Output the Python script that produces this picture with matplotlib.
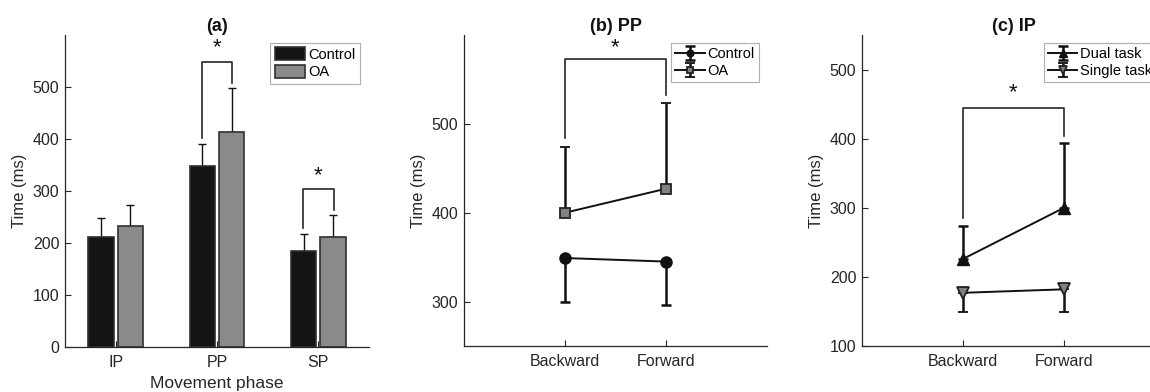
import matplotlib
matplotlib.use("Agg")
import matplotlib.pyplot as plt
import numpy as np

plt.rcParams['font.family'] = ['Liberation Sans', 'DejaVu Sans']

# ---- data ----
phases = ["IP", "PP", "SP"]
control_mean = [212, 349, 185]
control_err = [37, 41, 33]
oa_mean = [233, 414, 212]
oa_err = [40, 84, 41]

directions = ["Backward", "Forward"]
pp_control = [349, 345]
pp_control_err = [50, 49]
pp_oa = [400, 427]
pp_oa_err = [74, 96]

ip_dual = [226, 300]
ip_dual_err = [48, 94]
ip_single = [177, 182]
ip_single_err = [28, 33]

# significance brackets: (x_left, x_right, y_top, y_left_end, y_right_end, y_star)
sig_a = [(1.85, 2.15, 548, 402, 508, 582), (2.85, 3.15, 303, 229, 263, 337)]
sig_b = [(1, 2, 573, 484, 533, 590)]
sig_c = [(1, 2, 445, 285, 404, 471)]

TXT = '#262626'
W, H = 1150, 392
fig = plt.figure(figsize=(W / 100, H / 100), dpi=100)


def style(ax):
    for s in ['top', 'right']:
        ax.spines[s].set_visible(False)
    for s in ['left', 'bottom']:
        ax.spines[s].set_color(TXT)
        ax.spines[s].set_linewidth(0.9)
    ax.tick_params(direction='in', colors=TXT, labelsize=11.5, length=4, width=0.8)
    ax.tick_params(axis='x', pad=6)
    ax.tick_params(axis='y', pad=4)


def brackets(ax, specs):
    for xl, xr, yt, yl, yr, ys in specs:
        ax.plot([xl, xl, xr, xr], [yl, yt, yt, yr], color='#262626', lw=1.2, clip_on=False)
        # place the visual centre of the asterisk glyph near ys
        ax.annotate('*', xy=((xl + xr) / 2, ys), xytext=(0, -6.5), textcoords='offset points',
                    ha='center', va='baseline', fontsize=16, color='#111111', annotation_clip=False)


def legend(ax, **kw):
    leg = ax.legend(borderaxespad=0, fontsize=10.5, handletextpad=0.2, labelspacing=0.2,
                    borderpad=0.3, fancybox=False, framealpha=1, edgecolor='#b0b0b0', **kw)
    leg.get_frame().set_linewidth(0.8)
    return leg


# ---- (a) ----
ax1 = fig.add_axes([65 / W, 1 - 347 / H, 304 / W, 312 / H])
style(ax1)
x = np.arange(1, len(phases) + 1)
bw = 0.25
off = 0.145
ax1.bar(x - off, control_mean, bw, color='#141414', edgecolor='#303030', lw=1.2, label='Control', zorder=2)
ax1.bar(x + off, oa_mean, bw, color='#8a8a8a', edgecolor='#303030', lw=1.2, label='OA', zorder=2)
ax1.errorbar(x - off, control_mean, yerr=[np.zeros(3), control_err], fmt='none', ecolor='#111111',
             elinewidth=1, capsize=3, capthick=1, zorder=1)
ax1.errorbar(x + off, oa_mean, yerr=[np.zeros(3), oa_err], fmt='none', ecolor='#111111',
             elinewidth=1, capsize=3, capthick=1, zorder=1)
ax1.set_xlim(0.5, 3.5)
ax1.set_ylim(0, 600)
ax1.set_yticks([0, 100, 200, 300, 400, 500])
ax1.set_xticks(x)
ax1.set_xticklabels(phases)
ax1.set_ylabel('Time (ms)', fontsize=12, color=TXT, labelpad=4)
ax1.set_xlabel('Movement phase', fontsize=12.5, color=TXT, labelpad=4)
ax1.set_title('(a)', fontsize=13, fontweight='bold', color='#111111', pad=3)
brackets(ax1, sig_a)
legend(ax1, loc='upper right', bbox_to_anchor=(0.97, 0.975), handlelength=2.1, handleheight=1.0)

# ---- (b) ----
ax2 = fig.add_axes([464 / W, 1 - 346 / H, 303 / W, 311 / H])
style(ax2)
xd = np.arange(1, len(directions) + 1)
ax2.errorbar(xd, pp_control, yerr=[pp_control_err, np.zeros(2)], color='#111111', marker='o', ms=8,
             mfc='#111111', mec='#111111', lw=1.4, elinewidth=1.8, capsize=3.5, capthick=1.8, label='Control')
ax2.errorbar(xd, pp_oa, yerr=[np.zeros(2), pp_oa_err], color='#111111', marker='s', ms=6.5,
             mfc='#808080', mec='#222222', mew=1.3, lw=1.4, elinewidth=1.8, capsize=3.5, capthick=1.8, label='OA')
ax2.set_xlim(0, 3)
ax2.set_ylim(250, 600)
ax2.set_yticks([300, 400, 500])
ax2.set_xticks(xd)
ax2.set_xticklabels(directions)
ax2.set_ylabel('Time (ms)', fontsize=12, color=TXT, labelpad=4)
ax2.set_title('(b) PP', fontsize=13, fontweight='bold', color='#111111', pad=3)
brackets(ax2, sig_b)
legend(ax2, loc='upper right', bbox_to_anchor=(0.974, 0.975), handlelength=2.0, markerscale=0.6)

# ---- (c) ----
ax3 = fig.add_axes([862 / W, 1 - 346 / H, 303 / W, 311 / H])
style(ax3)
ax3.errorbar(xd, ip_dual, yerr=[np.zeros(2), ip_dual_err], color='#111111', marker='^', ms=9,
             mfc='#111111', mec='#111111', lw=1.4, elinewidth=1.8, capsize=3.5, capthick=1.8, label='Dual task')
ax3.errorbar(xd, ip_single, yerr=[ip_single_err, np.zeros(2)], color='#111111', marker='v', ms=9,
             mfc='#808080', mec='#222222', mew=1.3, lw=1.4, elinewidth=1.8, capsize=3.5, capthick=1.8,
             label='Single task')
ax3.set_xlim(0, 3)
ax3.set_ylim(100, 550)
ax3.set_yticks([100, 200, 300, 400, 500])
ax3.set_xticks(xd)
ax3.set_xticklabels(directions)
ax3.set_ylabel('Time (ms)', fontsize=12, color=TXT, labelpad=4)
ax3.set_title('(c) IP', fontsize=13, fontweight='bold', color='#111111', pad=3)
brackets(ax3, sig_c)
legend(ax3, loc='upper left', bbox_to_anchor=(0.60, 0.975), handlelength=2.0, markerscale=0.6)

fig.savefig('out.png', dpi=100)
